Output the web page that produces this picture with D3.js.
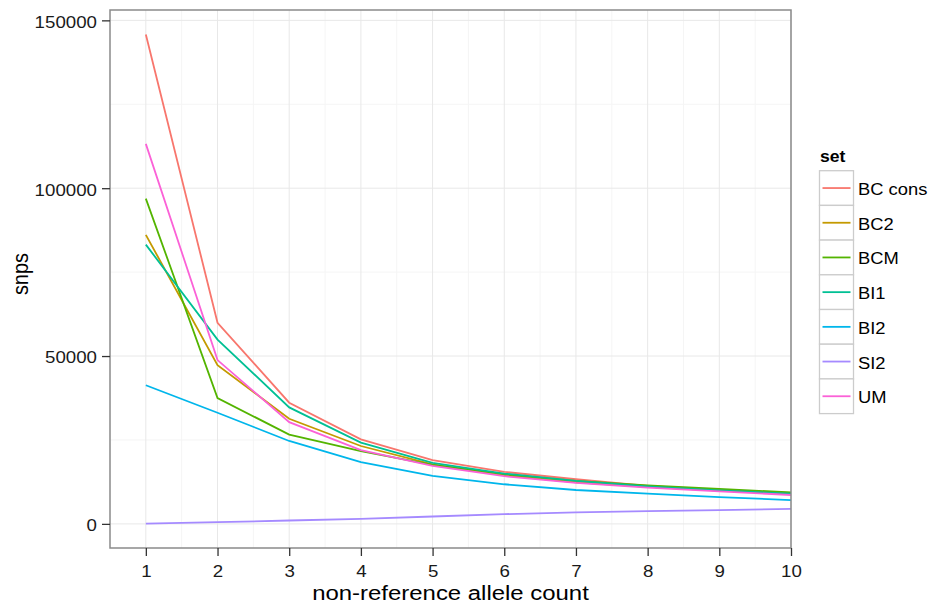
<!DOCTYPE html>
<html>
<head>
<meta charset="utf-8">
<script src="https://cdn.jsdelivr.net/npm/d3@7"></script>
<style>
  body { margin: 0; background: #fff; }
  svg text { font-family: "Liberation Sans", Arial, sans-serif; }
</style>
</head>
<body>
<div id="chart"></div>
<script>
// allele counts on the x axis
const counts = [1, 2, 3, 4, 5, 6, 7, 8, 9, 10];

// snps per set
const setNames = ["BC cons", "BC2", "BCM", "BI1", "BI2", "SI2", "UM"];
const bcCons = [145800, 59900, 36100, 25200, 19000, 15500, 13300, 11300, 10100, 9200];
const bc2    = [86100, 47300, 31300, 23200, 17700, 14500, 12400, 11000, 9900, 9000];
const bcm    = [96900, 37500, 26600, 21700, 17600, 14800, 12800, 11500, 10400, 9400];
const bi1    = [83200, 54900, 34700, 24200, 18200, 15000, 12800, 11200, 10000, 9000];
const bi2    = [41300, 33100, 24700, 18400, 14300, 11800, 10100, 9000, 8000, 7100];
const si2    = [100, 500, 1000, 1500, 2200, 2900, 3400, 3800, 4100, 4500];
const um     = [113200, 48800, 30300, 22000, 17300, 14200, 12200, 10800, 9700, 8600];

const xTicks = [1, 2, 3, 4, 5, 6, 7, 8, 9, 10];
const yTicks = [0, 50000, 100000, 150000];
const colors = ["#F8766D", "#C49A00", "#53B400", "#00C094", "#00B6EB", "#A58AFF", "#FB61D7"];

const seriesValues = [bcCons, bc2, bcm, bi1, bi2, si2, um];
const series = setNames.map((name, i) => ({
  name: name,
  color: colors[i],
  points: counts.map((c, j) => ({ x: c, y: seriesValues[i][j] }))
}));

const width = 934, height = 606;
const panel = { left: 110, top: 10, right: 791, bottom: 548 };

const svg = d3.select("#chart").append("svg")
  .attr("width", width)
  .attr("height", height);

// the original picture is a bit wider than tall, so text gets stretched sideways
function stretch(sel, sx) {
  sel.each(function() {
    const t = d3.select(this);
    const tx = +t.attr("x") || 0;
    t.attr("x", 0).attr("transform", `translate(${tx},0) scale(${sx},1)`);
  });
}

const allY = seriesValues.flat();
const yMin = d3.min(allY), yMax = d3.max(allY);
const pad = (yMax - yMin) * 0.05;

const x = d3.scaleLinear().domain([0.5, 10]).range([panel.left, panel.right]);
const y = d3.scaleLinear().domain([yMin - pad, yMax + pad]).range([panel.bottom, panel.top]);

const grid = svg.append("g");
// minor grid
const xMinor = d3.range(1.5, 10, 1);
const yMinor = [25000, 75000, 125000];
grid.selectAll(".xminor").data(xMinor).enter().append("line")
  .attr("x1", d => x(d)).attr("x2", d => x(d))
  .attr("y1", panel.top).attr("y2", panel.bottom)
  .attr("stroke", "#f5f5f5").attr("stroke-width", 1);
grid.selectAll(".yminor").data(yMinor).enter().append("line")
  .attr("x1", panel.left).attr("x2", panel.right)
  .attr("y1", d => y(d)).attr("y2", d => y(d))
  .attr("stroke", "#f5f5f5").attr("stroke-width", 1);
// major grid
grid.selectAll(".xmajor").data(xTicks).enter().append("line")
  .attr("x1", d => x(d)).attr("x2", d => x(d))
  .attr("y1", panel.top).attr("y2", panel.bottom)
  .attr("stroke", "#e8e8e8").attr("stroke-width", 1);
grid.selectAll(".ymajor").data(yTicks).enter().append("line")
  .attr("x1", panel.left).attr("x2", panel.right)
  .attr("y1", d => y(d)).attr("y2", d => y(d))
  .attr("stroke", "#e8e8e8").attr("stroke-width", 1);

// lines
const line = d3.line().x(d => x(d.x)).y(d => y(d.y));
svg.append("g").selectAll("path").data(series).enter().append("path")
  .attr("d", d => line(d.points))
  .attr("fill", "none")
  .attr("stroke", d => d.color)
  .attr("stroke-width", 1.8);

// panel border
svg.append("rect")
  .attr("x", panel.left).attr("y", panel.top)
  .attr("width", panel.right - panel.left).attr("height", panel.bottom - panel.top)
  .attr("fill", "none").attr("stroke", "#8a8a8a").attr("stroke-width", 1.5);

// axes
const xAxis = svg.append("g")
  .attr("transform", `translate(0,${panel.bottom})`)
  .call(d3.axisBottom(x).tickValues(xTicks).tickSize(8).tickPadding(9).tickFormat(d3.format("d")));
const yAxis = svg.append("g")
  .attr("transform", `translate(${panel.left},0)`)
  .call(d3.axisLeft(y).tickValues(yTicks).tickSize(8).tickPadding(5).tickFormat(d3.format("d")));
[xAxis, yAxis].forEach(a => {
  a.select(".domain").remove();
  a.selectAll(".tick line").attr("stroke", "#333").attr("stroke-width", 1.3);
  a.selectAll(".tick text").attr("fill", "#1a1a1a").style("font-size", "17px");
  stretch(a.selectAll(".tick text"), 1.1);
});
yAxis.selectAll(".tick text").attr("dy", "0.4em");

// axis titles
const xTitle = svg.append("text")
  .attr("x", (panel.left + panel.right) / 2).attr("y", 600)
  .attr("text-anchor", "middle")
  .style("font-size", "21px")
  .text("non-reference allele count");
stretch(xTitle, 1.14);
svg.append("text")
  .attr("transform", `translate(28,274) scale(1.1,1) rotate(-90)`)
  .attr("text-anchor", "middle")
  .style("font-size", "20px")
  .text("snps");

// legend
const legend = svg.append("g").attr("transform", "translate(819.5,170.7)");
const keyW = 34, keyH = 34.7;
const legTitle = legend.append("text")
  .attr("x", 0.5).attr("y", -9)
  .style("font-size", "16px").style("font-weight", "bold")
  .text("set");
stretch(legTitle, 1.1);
const keys = legend.selectAll(".key").data(series).enter().append("g")
  .attr("transform", (d, i) => `translate(0,${i * keyH})`);
keys.append("rect")
  .attr("width", keyW).attr("height", keyH)
  .attr("fill", "#fff").attr("stroke", "#cccccc").attr("stroke-width", 1.3);
keys.append("line")
  .attr("x1", 3).attr("x2", keyW - 3)
  .attr("y1", keyH / 2).attr("y2", keyH / 2)
  .attr("stroke", d => d.color).attr("stroke-width", 1.8);
const keyText = keys.append("text")
  .attr("x", keyW + 4.5).attr("y", keyH / 2 + 7)
  .style("font-size", "17px")
  .text(d => d.name);
stretch(keyText, 1.08);
</script>
</body>
</html>
